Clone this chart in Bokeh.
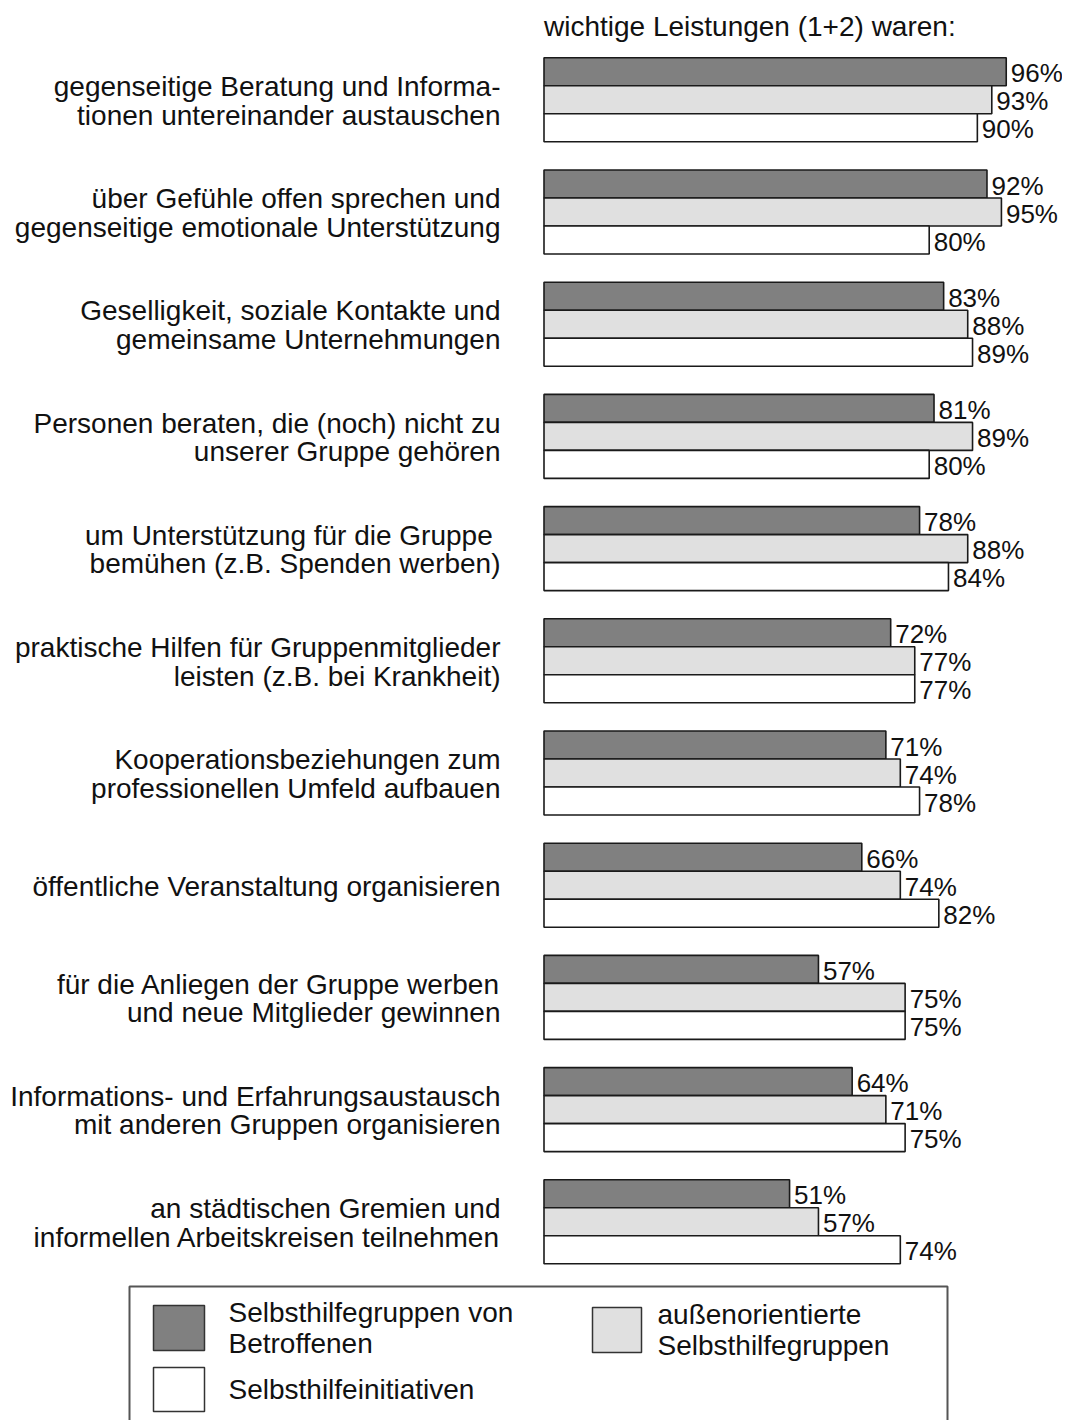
from bokeh.plotting import figure
from bokeh.models import Range1d
from bokeh.embed import file_html
from bokeh.resources import INLINE
from bokeh.core.properties import value

# ---------------- data ----------------
categories = [
    "gegenseitige Beratung und Informa-\ntionen untereinander austauschen",
    "über Gefühle offen sprechen und\ngegenseitige emotionale Unterstützung",
    "Geselligkeit, soziale Kontakte und\ngemeinsame Unternehmungen",
    "Personen beraten, die (noch) nicht zu\nunserer Gruppe gehören",
    "um Unterstützung für die Gruppe \nbemühen (z.B. Spenden werben)",
    "praktische Hilfen für Gruppenmitglieder\nleisten (z.B. bei Krankheit)",
    "Kooperationsbeziehungen zum\nprofessionellen Umfeld aufbauen",
    "öffentliche Veranstaltung organisieren",
    "für die Anliegen der Gruppe werben\nund neue Mitglieder gewinnen",
    "Informations- und Erfahrungsaustausch\nmit anderen Gruppen organisieren",
    "an städtischen Gremien und\ninformellen Arbeitskreisen teilnehmen",
]
betroffene = [96, 92, 83, 81, 78, 72, 71, 66, 57, 64, 51]
aussenorientiert = [93, 95, 88, 89, 88, 77, 74, 74, 75, 71, 57]
initiativen = [90, 80, 89, 80, 84, 77, 78, 82, 75, 75, 74]

series_names = ["Selbsthilfegruppen von\nBetroffenen",
                "außenorientierte\nSelbsthilfegruppen",
                "Selbsthilfeinitiativen"]
title_text = "wichtige Leistungen (1+2) waren:"

# ---------------- layout ----------------
W, H = 1062, 1420
K = 4.815          # px per percent
X0 = 543.5         # canvas px of 0 %
P = 112.2          # px per group
Y0 = 99.3          # canvas px of first group centre
BAR = 28.0         # bar thickness px
FONT = value("Liberation Sans")
FS = "28px"        # labels, title, legend
FSV = "26px"       # value labels


def dx(px):  # canvas px -> data x
    return (px - X0) / K


def dy(py):  # canvas px -> data y
    return (py - Y0) / P


p = figure(width=W, height=H, output_backend="svg", toolbar_location=None,
           x_range=Range1d(dx(0), dx(W)), y_range=Range1d(dy(H), dy(0)),
           x_axis_type=None, y_axis_type=None, min_border=0,
           background_fill_color="white", border_fill_color="white")
p.outline_line_color = None
p.grid.visible = False

h = BAR / P
n = len(categories)
idx = list(range(n))
colors = ["#808080", "#e0e0e0", "#ffffff"]
series = [betroffene, aussenorientiert, initiativen]
for s, (vals, col) in enumerate(zip(series, colors)):
    ys = [i + (s - 1) * h for i in idx]
    p.hbar(y=ys, left=0, right=vals, height=h, fill_color=col,
           line_color="#1a1a1a", line_width=1.6)
    p.text(x=[v + 4.5 / K for v in vals], y=[y + 1.5 / P for y in ys],
           text=[f"{v}%" for v in vals], text_font=FONT,
           text_font_size=FSV, text_align="left", text_baseline="middle",
           text_color="#111111")

# category labels
lx, ly, lt = [], [], []
LS = 28.5 / P
for i, c in enumerate(categories):
    lines = c.split("\n")
    m = len(lines)
    for j, ln in enumerate(lines):
        lx.append(dx(500))
        ly.append(i + (j - (m - 1) / 2) * LS + 1 / P)
        lt.append(ln)
p.text(x=lx, y=ly, text=lt, text_font=FONT, text_font_size=FS,
       text_align="right", text_baseline="middle", text_color="#111111")

# title
p.text(x=[0], y=[dy(26)], text=[title_text], text_font=FONT,
       text_font_size=FS, text_align="left", text_baseline="middle",
       text_color="#111111")

# legend box (open at bottom, cut by page)
p.line(x=[dx(129), dx(129), dx(947), dx(947)],
       y=[dy(1450), dy(1286), dy(1286), dy(1450)],
       line_color="#555555", line_width=2)

sw = [(153, 204, 1305, 1350), (592, 641, 1307, 1352), (153, 204, 1367, 1411)]
tx = [228, 657, 228]
for (x1, x2, y1, y2), col, name, t in zip(sw, colors, series_names, tx):
    p.quad(left=dx(x1), right=dx(x2), top=dy(y1), bottom=dy(y2),
           fill_color=col, line_color="#333333", line_width=1.5)
    lines = name.split("\n")
    m = len(lines)
    yc = (y1 + y2) / 2
    for j, ln in enumerate(lines):
        p.text(x=[dx(t)], y=[dy(yc + (j - (m - 1) / 2) * 31)], text=[ln],
               text_font=FONT, text_font_size=FS, text_align="left",
               text_baseline="middle", text_color="#111111")

open("out.html", "w").write(file_html(p, INLINE))
